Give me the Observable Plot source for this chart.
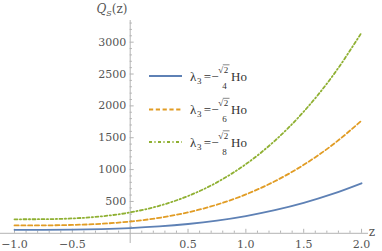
<!DOCTYPE html>
<html><head><meta charset="utf-8">
<script src="https://cdn.jsdelivr.net/npm/d3@7"></script>
<script src="https://cdn.jsdelivr.net/npm/@observablehq/plot@0.6"></script>
<style>body{margin:0;background:#fff} svg{display:block}</style>
</head><body><div id="chart"></div>
<script>
// data
const zValues = [-1, -0.75, -0.5, -0.25, 0, 0.25, 0.5, 0.75, 1, 1.25, 1.5, 1.75, 2];
const qLambda4 = [55, 55.4, 58.4, 66.4, 82, 107.8, 146.3, 199.9, 271.3, 363, 477.5, 617.5, 785];
const qLambda6 = [124, 124.7, 131.4, 149.4, 184.5, 242.6, 329, 449.8, 610.4, 816.8, 1074.4, 1389.4, 1768];
const qLambda8 = [220, 221.6, 233.6, 265.6, 328, 431.2, 585.2, 799.6, 1085.2, 1452, 1910, 2470, 3150];
const denominators = ["4", "6", "8"];
const colors = ["#5E81B5", "#E19C24", "#8FB032"];
const dashes = [null, "4.2,2.6", "3,2.4,1.2,2.4"];
const xTicks = [-1, -0.5, 0.5, 1, 1.5, 2];
const xTickLabels = ["−1.0", "−0.5", "0.5", "1.0", "1.5", "2.0"];
const yTicks = [500, 1000, 1500, 2000, 2500, 3000];
const yTickLabels = ["500", "1000", "1500", "2000", "2500", "3000"];

const series = [qLambda4, qLambda6, qLambda8];
const rows = series.flatMap((vals, i) => vals.map((q, j) => ({z: zValues[j], q, s: i})));

const W = 382, H = 251, mT = 20, mB = 8, mL = 0, mR = 14;
const xDom = [-1.121, 2.06], yDom = [-160, 3340];
const pxPerY = (H - mT - mB) / (yDom[1] - yDom[0]);
const pxPerX = (W - mL - mR) / (xDom[1] - xDom[0]);
const xMinor = d3.range(-10, 21).map(d => d / 10).filter(d => Math.abs(d * 2 - Math.round(d * 2)) > 1e-9);
const yMinor = d3.range(1, 34).map(d => d * 100).filter(d => d % 500 !== 0);

const axisColor = "#b3b3b3";
const labelColor = "#555";
const font = "DejaVu Serif, Liberation Serif, serif";
const legFont = "Liberation Serif, DejaVu Serif, serif";

const svg = Plot.plot({
  width: W, height: H,
  marginTop: mT, marginBottom: mB, marginLeft: mL, marginRight: mR,
  x: {domain: xDom, axis: null},
  y: {domain: yDom, axis: null},
  style: {fontFamily: font, background: "white"},
  marks: [
    Plot.ruleY([0], {x1: xDom[0], x2: xDom[1], stroke: axisColor, strokeWidth: 1}),
    Plot.ruleX([0], {y1: yDom[0], y2: yDom[1], stroke: axisColor, strokeWidth: 1}),
    Plot.ruleX(xTicks, {y1: 0, y2: 4 / pxPerY, stroke: axisColor}),
    Plot.ruleX(xMinor, {y1: 0, y2: 2.2 / pxPerY, stroke: axisColor}),
    Plot.ruleY(yTicks, {x1: 0, x2: 4 / pxPerX, stroke: axisColor}),
    Plot.ruleY(yMinor, {x1: 0, x2: 2.2 / pxPerX, stroke: axisColor}),
    Plot.text(xTicks, {x: d => d, y: 0, text: (d, i) => xTickLabels[i], dy: 11, fill: labelColor, fontSize: 11}),
    Plot.text(yTicks, {x: 0, y: d => d, text: (d, i) => yTickLabels[i], dx: -4, textAnchor: "end", fill: labelColor, fontSize: 11}),
    ...series.map((vals, i) => Plot.line(rows.filter(r => r.s === i), {
      x: "z", y: "q", stroke: colors[i], strokeWidth: 1.8, curve: "monotone-x",
      strokeDasharray: dashes[i]
    }))
  ]
});
document.getElementById("chart").appendChild(svg);

const g = d3.select(svg).append("g").attr("font-family", font).attr("fill", "#333");
// axis labels
const yl = g.append("text").attr("x", 112).attr("y", 13).attr("fill", labelColor).attr("font-size", 12);
yl.append("tspan").attr("font-style", "italic").text("Q");
yl.append("tspan").attr("font-style", "italic").attr("font-size", 8).attr("dy", 3).text("S");
yl.append("tspan").attr("dy", -3).text("(z)");
g.append("text").attr("x", 372).attr("y", 236).attr("fill", labelColor).attr("font-size", 12).text("z");

// legend
const legY = [76, 109.5, 142];
const lg = d3.select(svg).append("g").attr("font-family", legFont);
const txt = (x, y, s, size, anchor) => lg.append("text").attr("x", x).attr("y", y)
  .attr("font-size", size).attr("text-anchor", anchor || "start").attr("fill", "#333").text(s);
denominators.forEach((den, i) => {
  const y = legY[i];
  lg.append("line").attr("x1", 149).attr("x2", 182).attr("y1", y).attr("y2", y)
    .attr("stroke", colors[i]).attr("stroke-width", 1.8)
    .attr("stroke-dasharray", dashes[i]);
  txt(190, y + 4.5, "λ", 13);
  txt(197, y + 7.5, "3", 9);
  txt(207.5, y + 4.5, "=", 13, "middle");
  txt(214.8, y + 4.5, "−", 13, "middle");
  txt(218.2, y - 3.5, "√", 9);
  txt(226, y - 3.5, "2", 9, "middle");
  lg.append("line").attr("x1", 222.8).attr("x2", 229.5).attr("y1", y - 11.2).attr("y2", y - 11.2)
    .attr("stroke", "#333").attr("stroke-width", 0.6);
  txt(224.5, y + 12.5, den, 9, "middle");
  txt(231, y + 4.5, "Ho", 13);
});
</script>
</body></html>
